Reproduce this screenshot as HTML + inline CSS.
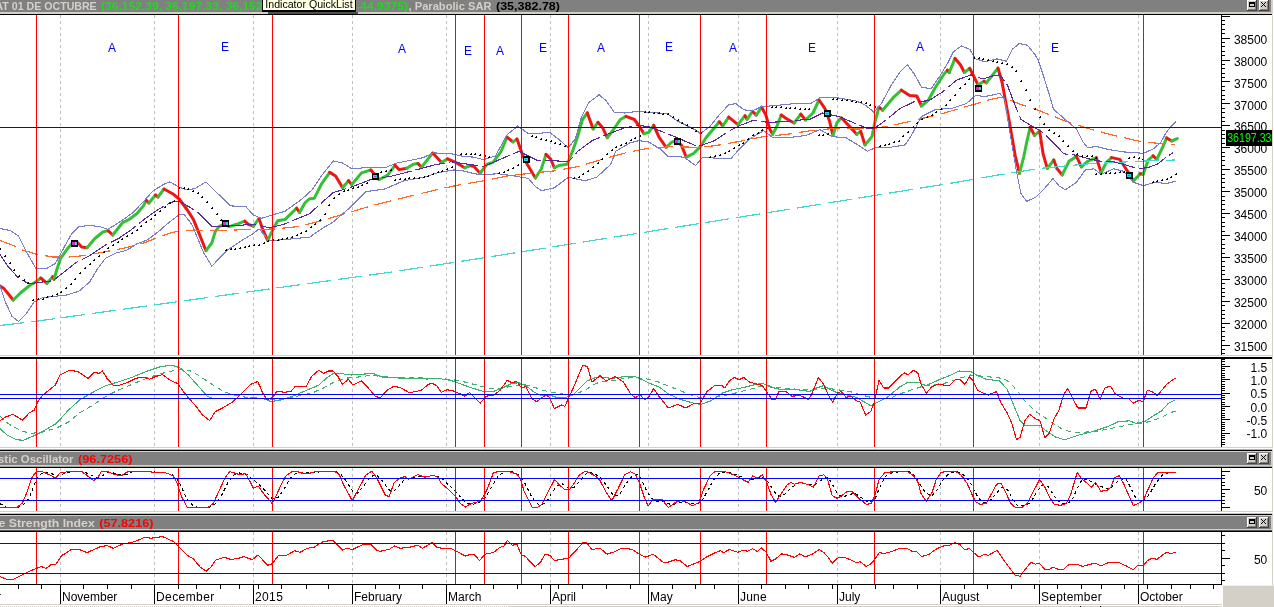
<!DOCTYPE html><html><head><meta charset="utf-8"><title>chart</title><style>html,body{margin:0;padding:0;background:#fff;overflow:hidden}</style></head><body><svg width="1274" height="607" viewBox="0 0 1274 607" style="display:block;font-family:'Liberation Sans',sans-serif;will-change:transform">
<rect x="0" y="0" width="1274" height="607" fill="#fff"/>
<defs>
<clipPath id="cm"><rect x="0" y="15" width="1221" height="340"/></clipPath>
<clipPath id="c2"><rect x="0" y="359" width="1221" height="88"/></clipPath>
<clipPath id="c3"><rect x="0" y="468" width="1221" height="43"/></clipPath>
<clipPath id="c4"><rect x="0" y="532" width="1221" height="52"/></clipPath>
</defs>
<g shape-rendering="crispEdges">
<line x1="60.5" y1="15" x2="60.5" y2="355" stroke="#c0c0c0" stroke-width="1" stroke-dasharray="3 3"/>
<line x1="154.5" y1="15" x2="154.5" y2="355" stroke="#c0c0c0" stroke-width="1" stroke-dasharray="3 3"/>
<line x1="253.5" y1="15" x2="253.5" y2="355" stroke="#c0c0c0" stroke-width="1" stroke-dasharray="3 3"/>
<line x1="352.5" y1="15" x2="352.5" y2="355" stroke="#c0c0c0" stroke-width="1" stroke-dasharray="3 3"/>
<line x1="446.5" y1="15" x2="446.5" y2="355" stroke="#c0c0c0" stroke-width="1" stroke-dasharray="3 3"/>
<line x1="550.5" y1="15" x2="550.5" y2="355" stroke="#c0c0c0" stroke-width="1" stroke-dasharray="3 3"/>
<line x1="648.5" y1="15" x2="648.5" y2="355" stroke="#c0c0c0" stroke-width="1" stroke-dasharray="3 3"/>
<line x1="738.5" y1="15" x2="738.5" y2="355" stroke="#c0c0c0" stroke-width="1" stroke-dasharray="3 3"/>
<line x1="837.5" y1="15" x2="837.5" y2="355" stroke="#c0c0c0" stroke-width="1" stroke-dasharray="3 3"/>
<line x1="940.5" y1="15" x2="940.5" y2="355" stroke="#c0c0c0" stroke-width="1" stroke-dasharray="3 3"/>
<line x1="1039.5" y1="15" x2="1039.5" y2="355" stroke="#c0c0c0" stroke-width="1" stroke-dasharray="3 3"/>
<line x1="1138.5" y1="15" x2="1138.5" y2="355" stroke="#c0c0c0" stroke-width="1" stroke-dasharray="3 3"/>
<line x1="60.5" y1="359" x2="60.5" y2="447" stroke="#c0c0c0" stroke-width="1" stroke-dasharray="3 3"/>
<line x1="154.5" y1="359" x2="154.5" y2="447" stroke="#c0c0c0" stroke-width="1" stroke-dasharray="3 3"/>
<line x1="253.5" y1="359" x2="253.5" y2="447" stroke="#c0c0c0" stroke-width="1" stroke-dasharray="3 3"/>
<line x1="352.5" y1="359" x2="352.5" y2="447" stroke="#c0c0c0" stroke-width="1" stroke-dasharray="3 3"/>
<line x1="446.5" y1="359" x2="446.5" y2="447" stroke="#c0c0c0" stroke-width="1" stroke-dasharray="3 3"/>
<line x1="550.5" y1="359" x2="550.5" y2="447" stroke="#c0c0c0" stroke-width="1" stroke-dasharray="3 3"/>
<line x1="648.5" y1="359" x2="648.5" y2="447" stroke="#c0c0c0" stroke-width="1" stroke-dasharray="3 3"/>
<line x1="738.5" y1="359" x2="738.5" y2="447" stroke="#c0c0c0" stroke-width="1" stroke-dasharray="3 3"/>
<line x1="837.5" y1="359" x2="837.5" y2="447" stroke="#c0c0c0" stroke-width="1" stroke-dasharray="3 3"/>
<line x1="940.5" y1="359" x2="940.5" y2="447" stroke="#c0c0c0" stroke-width="1" stroke-dasharray="3 3"/>
<line x1="1039.5" y1="359" x2="1039.5" y2="447" stroke="#c0c0c0" stroke-width="1" stroke-dasharray="3 3"/>
<line x1="1138.5" y1="359" x2="1138.5" y2="447" stroke="#c0c0c0" stroke-width="1" stroke-dasharray="3 3"/>
<line x1="60.5" y1="468" x2="60.5" y2="511" stroke="#c0c0c0" stroke-width="1" stroke-dasharray="3 3"/>
<line x1="154.5" y1="468" x2="154.5" y2="511" stroke="#c0c0c0" stroke-width="1" stroke-dasharray="3 3"/>
<line x1="253.5" y1="468" x2="253.5" y2="511" stroke="#c0c0c0" stroke-width="1" stroke-dasharray="3 3"/>
<line x1="352.5" y1="468" x2="352.5" y2="511" stroke="#c0c0c0" stroke-width="1" stroke-dasharray="3 3"/>
<line x1="446.5" y1="468" x2="446.5" y2="511" stroke="#c0c0c0" stroke-width="1" stroke-dasharray="3 3"/>
<line x1="550.5" y1="468" x2="550.5" y2="511" stroke="#c0c0c0" stroke-width="1" stroke-dasharray="3 3"/>
<line x1="648.5" y1="468" x2="648.5" y2="511" stroke="#c0c0c0" stroke-width="1" stroke-dasharray="3 3"/>
<line x1="738.5" y1="468" x2="738.5" y2="511" stroke="#c0c0c0" stroke-width="1" stroke-dasharray="3 3"/>
<line x1="837.5" y1="468" x2="837.5" y2="511" stroke="#c0c0c0" stroke-width="1" stroke-dasharray="3 3"/>
<line x1="940.5" y1="468" x2="940.5" y2="511" stroke="#c0c0c0" stroke-width="1" stroke-dasharray="3 3"/>
<line x1="1039.5" y1="468" x2="1039.5" y2="511" stroke="#c0c0c0" stroke-width="1" stroke-dasharray="3 3"/>
<line x1="1138.5" y1="468" x2="1138.5" y2="511" stroke="#c0c0c0" stroke-width="1" stroke-dasharray="3 3"/>
<line x1="60.5" y1="532" x2="60.5" y2="584" stroke="#c0c0c0" stroke-width="1" stroke-dasharray="3 3"/>
<line x1="154.5" y1="532" x2="154.5" y2="584" stroke="#c0c0c0" stroke-width="1" stroke-dasharray="3 3"/>
<line x1="253.5" y1="532" x2="253.5" y2="584" stroke="#c0c0c0" stroke-width="1" stroke-dasharray="3 3"/>
<line x1="352.5" y1="532" x2="352.5" y2="584" stroke="#c0c0c0" stroke-width="1" stroke-dasharray="3 3"/>
<line x1="446.5" y1="532" x2="446.5" y2="584" stroke="#c0c0c0" stroke-width="1" stroke-dasharray="3 3"/>
<line x1="550.5" y1="532" x2="550.5" y2="584" stroke="#c0c0c0" stroke-width="1" stroke-dasharray="3 3"/>
<line x1="648.5" y1="532" x2="648.5" y2="584" stroke="#c0c0c0" stroke-width="1" stroke-dasharray="3 3"/>
<line x1="738.5" y1="532" x2="738.5" y2="584" stroke="#c0c0c0" stroke-width="1" stroke-dasharray="3 3"/>
<line x1="837.5" y1="532" x2="837.5" y2="584" stroke="#c0c0c0" stroke-width="1" stroke-dasharray="3 3"/>
<line x1="940.5" y1="532" x2="940.5" y2="584" stroke="#c0c0c0" stroke-width="1" stroke-dasharray="3 3"/>
<line x1="1039.5" y1="532" x2="1039.5" y2="584" stroke="#c0c0c0" stroke-width="1" stroke-dasharray="3 3"/>
<line x1="1138.5" y1="532" x2="1138.5" y2="584" stroke="#c0c0c0" stroke-width="1" stroke-dasharray="3 3"/>
</g>
<g clip-path="url(#cm)" fill="none" stroke-width="3" stroke-linecap="round" stroke-linejoin="round">
<polyline points="0.0,286.0 4.0,288.6 13.2,300.0" stroke="#f01414"/>
<polyline points="13.2,300.0 21.0,292.5 29.0,286.0 35.6,282.0 40.8,278.0" stroke="#34c034"/>
<polyline points="40.8,278.0 47.0,283.3" stroke="#f01414"/>
<polyline points="47.0,283.3 52.7,276.7" stroke="#34c034"/>
<polyline points="52.7,276.7 54.0,279.4" stroke="#f01414"/>
<polyline points="54.0,279.4 56.7,270.0 60.6,258.3 67.2,249.0 71.7,243.8 75.0,242.5" stroke="#34c034"/>
<polyline points="75.0,242.5 78.0,243.0 81.7,247.0 87.0,247.7" stroke="#f01414"/>
<polyline points="87.0,247.7 94.9,238.5 102.8,232.0 108.0,230.6" stroke="#34c034"/>
<polyline points="108.0,230.6 112.8,235.0" stroke="#f01414"/>
<polyline points="112.8,235.0 122.5,222.7 129.0,219.5 137.0,213.5 143.6,205.6 146.2,200.3" stroke="#34c034"/>
<polyline points="146.2,200.3 148.9,203.0" stroke="#f01414"/>
<polyline points="148.9,203.0 155.5,195.0" stroke="#34c034"/>
<polyline points="155.5,195.0 158.0,197.0" stroke="#f01414"/>
<polyline points="158.0,197.0 164.0,189.0" stroke="#34c034"/>
<polyline points="164.0,189.0 172.6,193.7 179.2,199.0 187.0,209.5 193.5,219.6 206.0,250.7" stroke="#f01414"/>
<polyline points="206.0,250.7 211.8,243.0 215.4,231.3 218.9,226.6 223.6,224.3 229.5,226.6 236.6,224.3 244.8,221.2" stroke="#34c034"/>
<polyline points="244.8,221.2 248.3,224.3 253.5,226.2" stroke="#f01414"/>
<polyline points="253.5,226.2 259.0,218.4" stroke="#34c034"/>
<polyline points="259.0,218.4 262.5,229.0 267.7,240.3" stroke="#f01414"/>
<polyline points="267.7,240.3 274.3,226.6 277.8,220.7 284.9,219.6 296.7,208.2" stroke="#34c034"/>
<polyline points="296.7,208.2 299.5,212.5" stroke="#f01414"/>
<polyline points="299.5,212.5 304.9,203.0 309.2,199.0 314.3,198.3 321.4,184.2 329.7,172.4" stroke="#34c034"/>
<polyline points="329.7,172.4 335.6,176.0 342.6,187.7" stroke="#f01414"/>
<polyline points="342.6,187.7 348.5,180.7" stroke="#34c034"/>
<polyline points="348.5,180.7 351.6,184.7" stroke="#f01414"/>
<polyline points="351.6,184.7 361.5,172.9 370.9,170.0" stroke="#34c034"/>
<polyline points="370.9,170.0 374.4,174.3 379.0,179.5" stroke="#f01414"/>
<polyline points="379.0,179.5 387.4,175.3 395.0,165.4" stroke="#34c034"/>
<polyline points="395.0,165.4 399.2,169.6 406.7,168.2" stroke="#f01414"/>
<polyline points="406.7,168.2 413.3,164.2 418.0,163.5" stroke="#34c034"/>
<polyline points="418.0,163.5 421.6,167.2" stroke="#f01414"/>
<polyline points="421.6,167.2 432.7,153.0" stroke="#34c034"/>
<polyline points="432.7,153.0 441.6,162.5" stroke="#f01414"/>
<polyline points="441.6,162.5 447.5,158.8" stroke="#34c034"/>
<polyline points="447.5,158.8 454.6,161.8 464.7,167.8" stroke="#f01414"/>
<polyline points="464.7,167.8 470.6,165.5" stroke="#34c034"/>
<polyline points="470.6,165.5 474.0,166.6 480.0,173.2" stroke="#f01414"/>
<polyline points="480.0,173.2 487.0,164.3 493.0,162.4 501.2,151.3 507.0,137.2" stroke="#34c034"/>
<polyline points="507.0,137.2 513.0,141.9" stroke="#f01414"/>
<polyline points="513.0,141.9 517.0,139.0" stroke="#34c034"/>
<polyline points="517.0,139.0 522.5,154.8 527.2,164.3 535.4,178.0" stroke="#f01414"/>
<polyline points="535.4,178.0 541.3,169.0 546.0,154.4" stroke="#34c034"/>
<polyline points="546.0,154.4 550.7,159.0 554.3,167.8" stroke="#f01414"/>
<polyline points="554.3,167.8 559.0,165.5 567.2,164.3 573.0,150.0 577.8,136.0 582.5,119.5 587.3,112.9" stroke="#34c034"/>
<polyline points="587.3,112.9 593.2,128.9" stroke="#f01414"/>
<polyline points="593.2,128.9 597.9,122.3" stroke="#34c034"/>
<polyline points="597.9,122.3 602.6,127.7 607.3,137.6" stroke="#f01414"/>
<polyline points="607.3,137.6 613.2,130.0 620.3,119.5 626.0,116.4" stroke="#34c034"/>
<polyline points="626.0,116.4 634.4,119.5 640.3,127.7 643.8,133.6" stroke="#f01414"/>
<polyline points="643.8,133.6 648.5,132.5 653.7,125.4" stroke="#34c034"/>
<polyline points="653.7,125.4 659.0,137.2 666.2,147.3" stroke="#f01414"/>
<polyline points="666.2,147.3 672.0,141.9 676.8,140.7" stroke="#34c034"/>
<polyline points="676.8,140.7 681.5,145.4 686.3,157.2" stroke="#f01414"/>
<polyline points="686.3,157.2 693.3,153.7 700.4,146.6 706.3,137.2 713.4,128.9 719.3,121.8" stroke="#34c034"/>
<polyline points="719.3,121.8 722.8,126.0" stroke="#f01414"/>
<polyline points="722.8,126.0 728.7,117.1" stroke="#34c034"/>
<polyline points="728.7,117.1 738.0,124.7" stroke="#f01414"/>
<polyline points="738.0,124.7 745.0,115.7" stroke="#34c034"/>
<polyline points="745.0,115.7 747.0,119.3" stroke="#f01414"/>
<polyline points="747.0,119.3 752.5,111.3" stroke="#34c034"/>
<polyline points="752.5,111.3 756.2,115.1" stroke="#f01414"/>
<polyline points="756.2,115.1 761.7,107.2" stroke="#34c034"/>
<polyline points="761.7,107.2 766.0,115.4 769.5,128.4 772.5,134.3" stroke="#f01414"/>
<polyline points="772.5,134.3 776.5,127.2 781.2,115.0" stroke="#34c034"/>
<polyline points="781.2,115.0 787.0,119.0 794.2,123.0" stroke="#f01414"/>
<polyline points="794.2,123.0 800.8,114.2" stroke="#34c034"/>
<polyline points="800.8,114.2 805.5,120.0" stroke="#f01414"/>
<polyline points="805.5,120.0 813.0,113.0 819.0,100.0" stroke="#34c034"/>
<polyline points="819.0,100.0 824.8,108.3 829.6,121.3 833.0,135.4" stroke="#f01414"/>
<polyline points="833.0,135.4 837.0,122.5 841.3,117.8" stroke="#34c034"/>
<polyline points="841.3,117.8 850.8,127.7 856.7,134.3" stroke="#f01414"/>
<polyline points="856.7,134.3 860.7,131.4" stroke="#34c034"/>
<polyline points="860.7,131.4 865.0,144.9" stroke="#f01414"/>
<polyline points="865.0,144.9 872.0,136.6 874.8,122.5 879.0,107.2" stroke="#34c034"/>
<polyline points="879.0,107.2 882.6,110.2" stroke="#f01414"/>
<polyline points="882.6,110.2 893.2,97.7 901.4,90.2" stroke="#34c034"/>
<polyline points="901.4,90.2 909.7,95.4 916.8,96.0 921.5,106.0" stroke="#f01414"/>
<polyline points="921.5,106.0 928.5,100.0 935.6,87.0 943.9,74.2 947.4,70.2" stroke="#34c034"/>
<polyline points="947.4,70.2 949.3,72.5" stroke="#f01414"/>
<polyline points="949.3,72.5 955.0,58.4" stroke="#34c034"/>
<polyline points="955.0,58.4 960.4,64.7 964.4,72.5" stroke="#f01414"/>
<polyline points="964.4,72.5 969.8,68.3" stroke="#34c034"/>
<polyline points="969.8,68.3 973.3,75.4 978.0,84.8" stroke="#f01414"/>
<polyline points="978.0,84.8 984.0,81.2" stroke="#34c034"/>
<polyline points="984.0,81.2 986.3,82.9" stroke="#f01414"/>
<polyline points="986.3,82.9 998.0,68.1" stroke="#34c034"/>
<polyline points="998.0,68.1 1002.0,82.0 1009.2,121.0 1015.3,156.0 1019.5,173.4" stroke="#f01414"/>
<polyline points="1019.5,173.4 1023.7,157.0 1026.4,143.7 1030.2,127.2" stroke="#34c034"/>
<polyline points="1030.2,127.2 1034.5,135.4" stroke="#f01414"/>
<polyline points="1034.5,135.4 1039.7,131.2" stroke="#34c034"/>
<polyline points="1039.7,131.2 1043.1,153.9 1047.3,168.3" stroke="#f01414"/>
<polyline points="1047.3,168.3 1053.8,160.0" stroke="#34c034"/>
<polyline points="1053.8,160.0 1056.7,168.3 1062.2,174.9" stroke="#f01414"/>
<polyline points="1062.2,174.9 1069.0,161.3 1076.5,156.4" stroke="#34c034"/>
<polyline points="1076.5,156.4 1081.4,166.8" stroke="#f01414"/>
<polyline points="1081.4,166.8 1087.6,161.3 1096.3,157.6" stroke="#34c034"/>
<polyline points="1096.3,157.6 1101.2,172.5" stroke="#f01414"/>
<polyline points="1101.2,172.5 1106.2,162.6 1111.6,157.6" stroke="#34c034"/>
<polyline points="1111.6,157.6 1119.8,159.4 1125.9,168.8 1130.9,176.2 1133.4,181.1" stroke="#f01414"/>
<polyline points="1133.4,181.1 1140.3,173.7" stroke="#34c034"/>
<polyline points="1140.3,173.7 1143.2,174.2" stroke="#f01414"/>
<polyline points="1143.2,174.2 1148.2,160.1 1153.1,155.9" stroke="#34c034"/>
<polyline points="1153.1,155.9 1156.8,159.4" stroke="#f01414"/>
<polyline points="1156.8,159.4 1163.0,146.5 1166.7,137.9" stroke="#34c034"/>
<polyline points="1166.7,137.9 1171.7,141.0" stroke="#f01414"/>
<polyline points="1171.7,141.0 1177.3,138.6" stroke="#34c034"/>
</g>
<g clip-path="url(#cm)" fill="none" stroke-linejoin="round" shape-rendering="crispEdges">
<polyline points="0.0,325.5 34.3,321.5 200.0,298.6 387.4,272.6 480.0,258.4 640.0,233.0 800.0,207.5 954.5,182.6 999.2,174.8 1040.0,168.4 1088.9,163.8 1138.3,161.3 1175.4,160.0" stroke="#40d8d0" stroke-width="1.2" stroke-dasharray="24 7"/>
<polyline points="0.0,240.6 10.5,244.3 23.7,250.4 36.9,254.3 52.7,257.0 68.5,257.0 84.3,255.6 105.4,251.7 126.5,247.7 145.0,242.5 158.1,237.2 171.3,232.7 184.5,230.1 203.6,230.2 227.0,230.2 250.7,229.5 274.3,229.0 297.8,226.6 321.4,220.7 345.0,213.7 368.6,206.6 392.0,200.7 415.7,194.8 439.3,189.0 460.0,184.8 483.6,180.8 507.0,176.0 530.7,173.2 554.3,170.9 577.8,166.6 601.4,159.6 625.0,153.0 648.5,148.2 672.0,146.6 695.7,147.3 707.5,146.6 719.3,145.0 740.0,141.3 763.6,136.6 787.0,134.3 810.7,130.7 834.3,128.4 857.8,129.0 874.3,128.4 893.2,125.3 916.8,119.7 940.3,114.2 963.9,107.2 980.4,102.5 990.0,99.5 1002.4,97.0 1019.7,104.0 1039.4,110.7 1064.1,120.6 1088.9,128.7 1113.6,135.4 1138.3,141.0 1163.0,144.0 1175.4,144.5" stroke="#ff6a28" stroke-width="1.2" stroke-dasharray="17 7"/>
<polyline points="0.0,228.5 10.5,230.6 18.4,235.9 26.4,251.7 35.6,268.0 46.1,268.8 55.3,263.5 63.2,249.0 71.1,234.6 79.0,226.7 89.6,225.3 100.1,226.7 108.0,229.3 118.6,222.7 131.8,213.5 142.3,202.9 152.8,191.0 163.4,184.5 170.0,181.9 179.2,187.1 187.1,190.0 195.0,188.6 206.0,181.9 215.4,191.3 230.7,205.9 246.0,206.6 253.0,214.8 261.3,218.4 273.0,214.8 284.9,211.3 301.4,199.5 312.0,190.0 321.4,176.0 333.2,161.0 342.6,163.0 352.0,168.9 370.9,167.2 385.0,167.7 396.8,163.0 411.0,160.2 422.8,157.8 433.4,152.9 451.0,153.6 460.5,155.9 474.0,157.2 483.6,159.6 495.4,156.0 507.0,134.8 517.7,126.0 528.3,133.6 540.0,133.2 549.6,132.5 559.0,139.5 568.4,147.8 575.5,138.3 581.4,117.0 588.4,103.0 599.0,94.7 606.0,100.6 614.4,112.4 625.0,113.0 639.0,111.2 648.5,112.4 667.4,113.6 676.8,120.7 686.3,125.4 695.7,130.0 700.4,133.6 709.8,126.6 719.3,114.8 728.7,104.9 735.8,103.5 742.8,108.9 747.0,110.7 752.2,111.0 761.2,106.7 775.4,105.5 799.0,103.2 810.7,103.6 820.0,97.7 834.3,97.3 855.5,100.8 865.0,104.8 874.0,112.2 881.4,103.6 890.8,86.0 900.3,71.8 907.3,64.7 914.4,74.2 921.5,87.0 931.0,89.0 940.3,75.4 947.4,63.6 953.3,51.8 961.5,45.9 969.8,49.4 975.7,58.9 985.0,61.7 996.9,58.9 1006.3,61.2 1012.2,49.4 1019.3,43.5 1027.5,45.2 1034.6,54.0 1038.2,60.0 1043.1,74.8 1049.3,94.6 1053.6,109.4 1066.6,120.6 1076.5,129.2 1082.7,141.6 1087.6,147.7 1096.3,146.5 1108.6,149.5 1123.5,151.9 1135.8,152.7 1143.2,153.4 1153.1,149.0 1160.5,142.8 1166.7,131.7 1171.7,125.5 1175.9,121.8" stroke="#7a7ec8" stroke-width="1.1"/>
<polyline points="0.0,286.0 5.3,301.8 11.9,316.2 18.4,321.5 26.4,313.6 34.3,301.8 42.2,297.8 52.7,296.5 65.9,295.2 79.0,291.2 89.6,282.0 97.5,268.8 105.4,258.3 116.0,253.0 126.5,250.4 137.0,243.8 147.6,239.8 158.1,231.9 168.6,222.7 179.2,214.8 184.5,214.8 191.8,224.3 203.6,252.6 211.8,266.2 227.0,250.2 241.3,240.8 253.0,233.7 259.0,229.0 269.6,240.8 283.7,239.6 309.6,237.2 321.4,229.0 333.2,222.0 349.7,207.8 366.0,191.7 385.0,188.9 404.0,180.7 425.0,177.0 439.0,172.4 453.4,170.0 460.0,170.2 474.0,173.7 483.6,174.9 497.7,173.7 514.2,176.0 528.3,178.4 535.4,186.7 541.3,190.7 554.3,187.8 568.4,177.2 585.0,180.8 596.7,177.2 610.8,164.3 615.6,151.3 629.7,143.0 639.0,140.7 648.5,141.9 660.3,149.0 667.4,156.0 683.9,157.2 695.7,165.5 702.7,157.2 719.3,158.4 731.0,158.4 740.0,148.4 749.4,139.0 763.6,130.7 773.0,137.8 787.0,137.8 806.0,135.4 820.0,129.6 832.0,136.6 846.0,137.8 857.8,144.9 867.3,151.2 876.7,147.2 890.8,147.2 905.0,144.9 912.0,134.3 921.5,116.6 935.6,109.5 952.1,108.3 966.3,103.6 975.7,95.4 985.0,96.6 999.9,93.4 1004.8,99.5 1009.8,131.7 1016.0,168.8 1020.9,193.5 1026.6,201.4 1035.7,197.2 1044.4,188.5 1053.0,178.6 1059.2,186.0 1065.4,189.8 1076.5,182.3 1085.2,170.0 1093.8,168.8 1101.2,174.2 1113.6,168.8 1123.5,171.2 1133.4,182.3 1143.2,185.6 1155.6,182.3 1166.7,183.6 1175.4,181.1" stroke="#7a7ec8" stroke-width="1.1"/>
<polyline points="0.0,254.3 7.9,266.2 18.4,278.0 29.0,283.8 42.2,282.0 52.7,280.7 63.2,272.8 76.4,262.2 89.6,255.6 105.4,245.1 118.6,238.5 131.8,229.3 145.0,218.7 158.1,209.5 171.3,202.1 180.0,201.5 196.5,211.3 211.8,226.2 227.0,226.2 253.0,224.3 269.6,227.8 283.7,224.3 309.6,213.7 321.4,203.0 333.2,192.5 349.7,187.7 371.0,179.5 392.0,176.0 415.7,170.0 434.5,164.9 451.0,161.8 460.0,163.0 483.6,166.6 502.4,158.4 519.0,151.3 537.8,160.7 554.3,160.7 568.4,161.9 577.8,151.3 592.0,140.7 606.0,134.8 625.0,127.7 639.0,125.4 648.5,126.6 667.4,133.6 683.9,140.7 698.0,146.6 714.5,140.7 728.7,131.3 740.0,125.5 754.0,120.0 768.3,122.5 787.0,121.3 810.7,119.0 822.5,113.0 839.0,116.6 853.0,122.5 867.3,128.4 874.3,128.4 886.0,120.0 900.3,108.3 914.4,101.7 928.5,100.8 942.7,91.8 956.8,80.0 971.0,74.9 982.8,78.9 994.5,75.4 999.9,74.8 1007.3,84.7 1014.7,104.5 1020.9,119.3 1030.8,125.5 1041.9,131.7 1054.3,144.0 1064.1,153.9 1076.5,155.2 1088.9,158.9 1101.2,161.3 1113.6,161.8 1125.9,165.0 1138.3,168.8 1148.2,167.5 1158.1,163.8 1165.5,157.6 1172.9,152.7" stroke="#5a2a9a" stroke-width="1.1" stroke-dasharray="30 4"/>
</g>
<g fill="#000" shape-rendering="crispEdges" clip-path="url(#cm)">
<path d="M0 248h1v2h-2v-1h1z"/>
<path d="M5 255h1v2h-2v-1h1z"/>
<path d="M10 262h1v2h-2v-1h1z"/>
<path d="M14 269h1v2h-2v-1h1z"/>
<path d="M19 275h1v2h-2v-1h1z"/>
<path d="M24 279h1v2h-2v-1h1z"/>
<path d="M28 282h1v2h-2v-1h1z"/>
<path d="M33 299h1v2h-2v-1h1z"/>
<path d="M38 298h1v2h-2v-1h1z"/>
<path d="M43 298h1v2h-2v-1h1z"/>
<path d="M47 296h1v2h-2v-1h1z"/>
<path d="M52 295h1v2h-2v-1h1z"/>
<path d="M57 293h1v2h-2v-1h1z"/>
<path d="M61 291h1v2h-2v-1h1z"/>
<path d="M66 287h1v2h-2v-1h1z"/>
<path d="M71 283h1v2h-2v-1h1z"/>
<path d="M75 278h1v2h-2v-1h1z"/>
<path d="M80 272h1v2h-2v-1h1z"/>
<path d="M85 267h1v2h-2v-1h1z"/>
<path d="M90 263h1v2h-2v-1h1z"/>
<path d="M94 259h1v2h-2v-1h1z"/>
<path d="M99 255h1v2h-2v-1h1z"/>
<path d="M104 251h1v2h-2v-1h1z"/>
<path d="M108 247h1v2h-2v-1h1z"/>
<path d="M113 244h1v2h-2v-1h1z"/>
<path d="M118 241h1v2h-2v-1h1z"/>
<path d="M122 238h1v2h-2v-1h1z"/>
<path d="M127 235h1v2h-2v-1h1z"/>
<path d="M132 232h1v2h-2v-1h1z"/>
<path d="M137 229h1v2h-2v-1h1z"/>
<path d="M141 225h1v2h-2v-1h1z"/>
<path d="M146 221h1v2h-2v-1h1z"/>
<path d="M151 218h1v2h-2v-1h1z"/>
<path d="M155 214h1v2h-2v-1h1z"/>
<path d="M160 210h1v2h-2v-1h1z"/>
<path d="M165 206h1v2h-2v-1h1z"/>
<path d="M170 202h1v2h-2v-1h1z"/>
<path d="M174 200h1v2h-2v-1h1z"/>
<path d="M179 187h1v2h-2v-1h1z"/>
<path d="M184 187h1v2h-2v-1h1z"/>
<path d="M188 188h1v2h-2v-1h1z"/>
<path d="M193 190h1v2h-2v-1h1z"/>
<path d="M198 192h1v2h-2v-1h1z"/>
<path d="M202 196h1v2h-2v-1h1z"/>
<path d="M207 201h1v2h-2v-1h1z"/>
<path d="M212 207h1v2h-2v-1h1z"/>
<path d="M217 213h1v2h-2v-1h1z"/>
<path d="M221 219h1v2h-2v-1h1z"/>
<path d="M226 249h1v2h-2v-1h1z"/>
<path d="M231 248h1v2h-2v-1h1z"/>
<path d="M235 248h1v2h-2v-1h1z"/>
<path d="M240 247h1v2h-2v-1h1z"/>
<path d="M245 246h1v2h-2v-1h1z"/>
<path d="M249 245h1v2h-2v-1h1z"/>
<path d="M254 244h1v2h-2v-1h1z"/>
<path d="M259 244h1v2h-2v-1h1z"/>
<path d="M264 242h1v2h-2v-1h1z"/>
<path d="M268 240h1v2h-2v-1h1z"/>
<path d="M273 239h1v2h-2v-1h1z"/>
<path d="M278 239h1v2h-2v-1h1z"/>
<path d="M282 238h1v2h-2v-1h1z"/>
<path d="M287 237h1v2h-2v-1h1z"/>
<path d="M292 236h1v2h-2v-1h1z"/>
<path d="M297 234h1v2h-2v-1h1z"/>
<path d="M301 232h1v2h-2v-1h1z"/>
<path d="M306 230h1v2h-2v-1h1z"/>
<path d="M311 226h1v2h-2v-1h1z"/>
<path d="M315 223h1v2h-2v-1h1z"/>
<path d="M320 219h1v2h-2v-1h1z"/>
<path d="M325 213h1v2h-2v-1h1z"/>
<path d="M329 204h1v2h-2v-1h1z"/>
<path d="M334 197h1v2h-2v-1h1z"/>
<path d="M339 193h1v2h-2v-1h1z"/>
<path d="M344 190h1v2h-2v-1h1z"/>
<path d="M348 189h1v2h-2v-1h1z"/>
<path d="M353 187h1v2h-2v-1h1z"/>
<path d="M358 186h1v2h-2v-1h1z"/>
<path d="M362 184h1v2h-2v-1h1z"/>
<path d="M367 182h1v2h-2v-1h1z"/>
<path d="M377 173h1v2h-2v-1h1z"/>
<path d="M381 171h1v2h-2v-1h1z"/>
<path d="M386 170h1v2h-2v-1h1z"/>
<path d="M391 169h1v2h-2v-1h1z"/>
<path d="M395 179h1v2h-2v-1h1z"/>
<path d="M400 178h1v2h-2v-1h1z"/>
<path d="M405 178h1v2h-2v-1h1z"/>
<path d="M409 177h1v2h-2v-1h1z"/>
<path d="M414 177h1v2h-2v-1h1z"/>
<path d="M419 177h1v2h-2v-1h1z"/>
<path d="M424 176h1v2h-2v-1h1z"/>
<path d="M428 175h1v2h-2v-1h1z"/>
<path d="M433 173h1v2h-2v-1h1z"/>
<path d="M438 171h1v2h-2v-1h1z"/>
<path d="M442 170h1v2h-2v-1h1z"/>
<path d="M447 168h1v2h-2v-1h1z"/>
<path d="M452 166h1v2h-2v-1h1z"/>
<path d="M461 153h1v2h-2v-1h1z"/>
<path d="M466 153h1v2h-2v-1h1z"/>
<path d="M471 153h1v2h-2v-1h1z"/>
<path d="M475 153h1v2h-2v-1h1z"/>
<path d="M480 154h1v2h-2v-1h1z"/>
<path d="M485 155h1v2h-2v-1h1z"/>
<path d="M489 156h1v2h-2v-1h1z"/>
<path d="M499 172h1v2h-2v-1h1z"/>
<path d="M504 171h1v2h-2v-1h1z"/>
<path d="M508 169h1v2h-2v-1h1z"/>
<path d="M513 167h1v2h-2v-1h1z"/>
<path d="M518 164h1v2h-2v-1h1z"/>
<path d="M532 135h1v2h-2v-1h1z"/>
<path d="M536 136h1v2h-2v-1h1z"/>
<path d="M541 138h1v2h-2v-1h1z"/>
<path d="M546 139h1v2h-2v-1h1z"/>
<path d="M551 140h1v2h-2v-1h1z"/>
<path d="M555 142h1v2h-2v-1h1z"/>
<path d="M560 143h1v2h-2v-1h1z"/>
<path d="M565 145h1v2h-2v-1h1z"/>
<path d="M574 177h1v2h-2v-1h1z"/>
<path d="M579 176h1v2h-2v-1h1z"/>
<path d="M583 173h1v2h-2v-1h1z"/>
<path d="M588 170h1v2h-2v-1h1z"/>
<path d="M593 166h1v2h-2v-1h1z"/>
<path d="M598 162h1v2h-2v-1h1z"/>
<path d="M602 158h1v2h-2v-1h1z"/>
<path d="M607 153h1v2h-2v-1h1z"/>
<path d="M612 149h1v2h-2v-1h1z"/>
<path d="M616 146h1v2h-2v-1h1z"/>
<path d="M621 144h1v2h-2v-1h1z"/>
<path d="M626 142h1v2h-2v-1h1z"/>
<path d="M631 139h1v2h-2v-1h1z"/>
<path d="M635 137h1v2h-2v-1h1z"/>
<path d="M640 135h1v2h-2v-1h1z"/>
<path d="M645 111h1v2h-2v-1h1z"/>
<path d="M649 111h1v2h-2v-1h1z"/>
<path d="M654 112h1v2h-2v-1h1z"/>
<path d="M659 112h1v2h-2v-1h1z"/>
<path d="M663 113h1v2h-2v-1h1z"/>
<path d="M668 113h1v2h-2v-1h1z"/>
<path d="M673 116h1v2h-2v-1h1z"/>
<path d="M678 119h1v2h-2v-1h1z"/>
<path d="M682 122h1v2h-2v-1h1z"/>
<path d="M687 124h1v2h-2v-1h1z"/>
<path d="M692 127h1v2h-2v-1h1z"/>
<path d="M696 130h1v2h-2v-1h1z"/>
<path d="M701 132h1v2h-2v-1h1z"/>
<path d="M710 156h1v2h-2v-1h1z"/>
<path d="M715 155h1v2h-2v-1h1z"/>
<path d="M720 154h1v2h-2v-1h1z"/>
<path d="M725 152h1v2h-2v-1h1z"/>
<path d="M729 150h1v2h-2v-1h1z"/>
<path d="M734 147h1v2h-2v-1h1z"/>
<path d="M739 144h1v2h-2v-1h1z"/>
<path d="M743 142h1v2h-2v-1h1z"/>
<path d="M748 138h1v2h-2v-1h1z"/>
<path d="M753 134h1v2h-2v-1h1z"/>
<path d="M758 132h1v2h-2v-1h1z"/>
<path d="M762 129h1v2h-2v-1h1z"/>
<path d="M767 127h1v2h-2v-1h1z"/>
<path d="M772 106h1v2h-2v-1h1z"/>
<path d="M776 106h1v2h-2v-1h1z"/>
<path d="M781 106h1v2h-2v-1h1z"/>
<path d="M786 107h1v2h-2v-1h1z"/>
<path d="M790 107h1v2h-2v-1h1z"/>
<path d="M795 107h1v2h-2v-1h1z"/>
<path d="M800 108h1v2h-2v-1h1z"/>
<path d="M805 108h1v2h-2v-1h1z"/>
<path d="M809 108h1v2h-2v-1h1z"/>
<path d="M819 134h1v2h-2v-1h1z"/>
<path d="M823 134h1v2h-2v-1h1z"/>
<path d="M828 133h1v2h-2v-1h1z"/>
<path d="M833 98h1v2h-2v-1h1z"/>
<path d="M837 98h1v2h-2v-1h1z"/>
<path d="M842 99h1v2h-2v-1h1z"/>
<path d="M847 99h1v2h-2v-1h1z"/>
<path d="M852 100h1v2h-2v-1h1z"/>
<path d="M856 101h1v2h-2v-1h1z"/>
<path d="M861 101h1v2h-2v-1h1z"/>
<path d="M866 102h1v2h-2v-1h1z"/>
<path d="M870 104h1v2h-2v-1h1z"/>
<path d="M875 106h1v2h-2v-1h1z"/>
<path d="M880 145h1v2h-2v-1h1z"/>
<path d="M885 144h1v2h-2v-1h1z"/>
<path d="M889 143h1v2h-2v-1h1z"/>
<path d="M894 141h1v2h-2v-1h1z"/>
<path d="M899 140h1v2h-2v-1h1z"/>
<path d="M903 135h1v2h-2v-1h1z"/>
<path d="M908 131h1v2h-2v-1h1z"/>
<path d="M913 126h1v2h-2v-1h1z"/>
<path d="M917 122h1v2h-2v-1h1z"/>
<path d="M922 118h1v2h-2v-1h1z"/>
<path d="M927 116h1v2h-2v-1h1z"/>
<path d="M932 114h1v2h-2v-1h1z"/>
<path d="M936 111h1v2h-2v-1h1z"/>
<path d="M941 108h1v2h-2v-1h1z"/>
<path d="M946 104h1v2h-2v-1h1z"/>
<path d="M950 99h1v2h-2v-1h1z"/>
<path d="M955 94h1v2h-2v-1h1z"/>
<path d="M960 87h1v2h-2v-1h1z"/>
<path d="M965 83h1v2h-2v-1h1z"/>
<path d="M969 78h1v2h-2v-1h1z"/>
<path d="M974 57h1v2h-2v-1h1z"/>
<path d="M979 57h1v2h-2v-1h1z"/>
<path d="M983 58h1v2h-2v-1h1z"/>
<path d="M988 59h1v2h-2v-1h1z"/>
<path d="M993 60h1v2h-2v-1h1z"/>
<path d="M997 61h1v2h-2v-1h1z"/>
<path d="M1002 62h1v2h-2v-1h1z"/>
<path d="M1007 63h1v2h-2v-1h1z"/>
<path d="M1012 66h1v2h-2v-1h1z"/>
<path d="M1016 70h1v2h-2v-1h1z"/>
<path d="M1021 80h1v2h-2v-1h1z"/>
<path d="M1026 89h1v2h-2v-1h1z"/>
<path d="M1030 99h1v2h-2v-1h1z"/>
<path d="M1035 108h1v2h-2v-1h1z"/>
<path d="M1040 116h1v2h-2v-1h1z"/>
<path d="M1044 123h1v2h-2v-1h1z"/>
<path d="M1049 129h1v2h-2v-1h1z"/>
<path d="M1054 132h1v2h-2v-1h1z"/>
<path d="M1059 135h1v2h-2v-1h1z"/>
<path d="M1063 140h1v2h-2v-1h1z"/>
<path d="M1068 145h1v2h-2v-1h1z"/>
<path d="M1073 150h1v2h-2v-1h1z"/>
<path d="M1077 153h1v2h-2v-1h1z"/>
<path d="M1082 155h1v2h-2v-1h1z"/>
<path d="M1087 155h1v2h-2v-1h1z"/>
<path d="M1092 155h1v2h-2v-1h1z"/>
<path d="M1096 157h1v2h-2v-1h1z"/>
<path d="M1096 173h1v2h-2v-1h1z"/>
<path d="M1101 173h1v2h-2v-1h1z"/>
<path d="M1106 172h1v2h-2v-1h1z"/>
<path d="M1110 172h1v2h-2v-1h1z"/>
<path d="M1115 172h1v2h-2v-1h1z"/>
<path d="M1120 171h1v2h-2v-1h1z"/>
<path d="M1124 171h1v2h-2v-1h1z"/>
<path d="M1129 157h1v2h-2v-1h1z"/>
<path d="M1134 156h1v2h-2v-1h1z"/>
<path d="M1139 157h1v2h-2v-1h1z"/>
<path d="M1143 158h1v2h-2v-1h1z"/>
<path d="M1153 181h1v2h-2v-1h1z"/>
<path d="M1157 180h1v2h-2v-1h1z"/>
<path d="M1162 179h1v2h-2v-1h1z"/>
<path d="M1167 178h1v2h-2v-1h1z"/>
<path d="M1171 176h1v2h-2v-1h1z"/>
<path d="M1176 173h1v2h-2v-1h1z"/>
</g>
<g shape-rendering="crispEdges">
<rect x="71" y="240" width="7" height="7" fill="#000"/>
<rect x="72" y="242" width="3" height="3" fill="#d030d0"/>
<rect x="75" y="242" width="2" height="3" fill="#20d8e8"/>
<rect x="222" y="220" width="7" height="7" fill="#000"/>
<rect x="223" y="222" width="3" height="3" fill="#d030d0"/>
<rect x="226" y="222" width="2" height="3" fill="#20d8e8"/>
<rect x="372" y="173" width="7" height="7" fill="#000"/>
<rect x="373" y="175" width="4" height="3" fill="#20d8e8"/>
<rect x="374" y="176" width="2" height="1" fill="#d030d0"/>
<rect x="523" y="156" width="7" height="7" fill="#000"/>
<rect x="524" y="158" width="4" height="3" fill="#20d8e8"/>
<rect x="525" y="159" width="2" height="1" fill="#d030d0"/>
<rect x="674" y="138" width="7" height="7" fill="#000"/>
<rect x="675" y="140" width="3" height="3" fill="#d030d0"/>
<rect x="678" y="140" width="2" height="3" fill="#20d8e8"/>
<rect x="824" y="110" width="7" height="7" fill="#000"/>
<rect x="825" y="112" width="4" height="3" fill="#20d8e8"/>
<rect x="826" y="113" width="2" height="1" fill="#d030d0"/>
<rect x="975" y="85" width="7" height="7" fill="#000"/>
<rect x="976" y="87" width="3" height="3" fill="#d030d0"/>
<rect x="979" y="87" width="2" height="3" fill="#20d8e8"/>
<rect x="1126" y="172" width="7" height="7" fill="#000"/>
<rect x="1127" y="174" width="4" height="3" fill="#20d8e8"/>
<rect x="1128" y="175" width="2" height="1" fill="#d030d0"/>
</g>
<g fill="#0000ff" font-size="12px" text-anchor="middle">
<text x="112" y="52.2">A</text>
<text x="225" y="51.2">E</text>
<text x="402" y="53.2">A</text>
<text x="468" y="55.2">E</text>
<text x="500" y="55.2">A</text>
<text x="543" y="52.2">E</text>
<text x="601" y="52.2">A</text>
<text x="669" y="51.2">E</text>
<text x="733" y="52.2">A</text>
<text x="812" y="52.2">E</text>
<text x="920" y="51.2">A</text>
<text x="1055" y="52.2">E</text>
</g>
<g clip-path="url(#c2)" fill="none" stroke-linejoin="round" shape-rendering="crispEdges">
<polyline points="0.0,416.2 9.4,424.5 21.2,430.8 30.6,433.4 42.4,432.2 56.5,428.0 68.3,422.1 80.0,412.7 94.2,404.4 106.0,396.2 117.7,390.3 131.9,384.4 146.0,378.5 160.1,373.8 171.9,371.0 181.3,369.1 190.7,371.0 200.1,376.2 211.9,384.4 223.7,391.5 235.5,395.5 247.2,397.4 259.0,397.9 270.8,399.3 282.6,399.3 292.0,397.9 300.0,395.3 311.8,393.1 323.5,388.0 335.3,381.4 347.1,378.1 361.2,376.7 373.0,375.0 382.4,377.4 398.9,377.8 417.7,377.8 436.6,378.5 450.7,379.3 464.8,382.1 479.0,385.6 490.7,388.4 502.5,388.0 514.3,385.6 523.7,384.4 533.1,386.8 542.5,390.3 554.3,392.7 566.1,394.6 575.5,393.9 584.9,390.3 594.3,384.4 600.0,382.0 611.8,380.9 623.5,378.5 635.3,377.4 647.1,379.0 658.9,382.1 670.6,386.8 682.4,391.5 694.2,396.2 706.0,398.6 717.7,396.9 731.9,393.9 743.6,390.8 755.4,388.0 764.8,385.1 776.6,387.5 788.4,388.4 802.5,389.8 816.6,389.8 826.0,388.0 837.8,389.8 849.6,391.5 861.4,395.0 873.1,397.9 882.6,398.6 892.0,397.4 900.0,393.9 911.8,389.8 923.5,386.1 935.3,384.4 947.1,382.8 958.9,378.5 970.6,375.0 982.4,376.2 994.2,377.4 1003.6,378.5 1010.7,383.3 1017.7,391.5 1024.8,400.9 1034.2,410.3 1043.6,416.7 1053.0,423.3 1062.5,429.2 1071.9,432.2 1083.7,432.2 1095.4,431.5 1107.2,429.2 1119.0,426.8 1130.7,424.5 1142.5,423.3 1151.9,420.9 1161.4,417.4 1170.8,412.7 1175.5,411.0" stroke="#3cb070" stroke-width="1.1" stroke-dasharray="5 4"/>
<polyline points="0.0,428.5 7.1,435.1 16.5,439.8 23.5,440.2 33.0,436.2 44.7,430.3 56.5,423.3 68.3,410.3 80.0,399.7 94.2,391.5 106.0,385.6 117.7,382.1 131.9,377.4 146.0,371.5 160.1,366.8 171.9,365.1 180.1,368.0 188.4,375.0 197.8,385.6 207.2,396.2 213.1,398.6 235.5,398.6 254.3,397.9 263.7,398.6 270.8,401.6 280.2,400.2 289.6,397.4 300.0,393.1 309.4,389.1 318.8,385.1 325.9,378.5 333.0,373.8 342.4,373.8 351.8,375.0 361.2,374.3 373.0,373.4 380.1,376.2 394.2,377.8 410.7,378.5 427.1,379.0 438.9,378.5 450.7,380.4 460.1,383.7 471.9,388.0 483.7,391.5 493.1,391.5 502.5,388.0 511.9,383.3 519.0,382.8 526.0,385.6 533.1,391.5 540.2,395.0 549.6,395.0 556.7,397.4 566.1,397.4 573.1,395.0 580.2,388.0 587.3,380.9 594.3,378.1 600.0,376.8 611.8,378.5 623.5,376.7 635.3,376.7 642.4,379.7 649.4,383.3 658.9,386.8 668.3,393.9 680.1,399.3 694.2,403.3 701.2,404.4 710.7,400.9 722.4,393.1 731.9,389.8 743.6,387.5 753.0,385.1 762.5,383.3 769.5,386.8 779.0,389.1 790.7,389.1 802.5,390.3 809.6,391.5 816.6,388.0 823.7,385.6 830.7,389.8 837.8,393.1 847.2,395.0 856.7,397.4 863.7,401.6 870.8,405.6 877.8,402.1 887.3,397.4 894.3,391.5 900.0,386.8 907.1,382.8 917.7,382.1 925.9,385.6 937.7,380.4 949.4,375.7 958.9,371.0 970.6,371.5 977.7,375.7 987.1,379.7 998.9,380.4 1007.1,389.1 1013.0,403.3 1020.1,420.9 1024.8,425.2 1040.1,425.2 1046.0,430.8 1055.4,436.9 1064.8,439.8 1078.9,435.1 1095.4,430.8 1107.2,426.8 1119.0,421.4 1129.6,420.9 1135.5,423.3 1144.9,421.4 1151.9,416.7 1161.4,411.0 1168.4,403.3 1175.5,399.7" stroke="#3cb070" stroke-width="1.1"/>
<polyline points="0.0,420.9 4.7,417.4 13.0,414.3 22.4,420.2 29.4,412.7 34.1,410.3 37.7,402.1 42.4,395.5 49.4,389.8 55.3,385.1 60.0,375.0 69.5,370.3 77.7,371.5 88.3,378.5 94.2,372.2 98.9,373.4 102.4,370.8 107.1,378.5 113.0,385.1 120.0,385.1 128.3,382.1 136.6,378.1 144.8,377.4 149.5,379.3 155.4,376.7 162.5,374.5 169.5,379.7 177.8,383.7 186.0,395.0 195.4,405.6 202.5,415.0 209.6,420.5 215.4,411.5 223.7,407.3 233.1,401.6 242.5,392.7 250.8,384.4 257.8,381.4 262.5,392.7 267.2,399.7 273.1,396.9 276.7,391.5 284.9,392.2 290.8,391.5 295.5,386.1 300.0,386.8 305.9,386.8 311.8,376.2 318.8,370.3 323.5,373.4 328.3,371.0 333.0,371.0 337.7,376.2 342.4,384.4 348.3,379.3 353.0,385.1 361.2,380.9 368.3,388.0 375.3,396.2 380.1,397.9 387.1,390.3 394.2,386.1 401.2,388.0 409.5,392.7 415.4,391.5 421.3,390.3 428.3,384.4 431.9,383.3 436.6,385.6 441.3,392.2 447.2,389.8 453.0,390.8 460.1,393.9 464.8,396.2 469.5,392.7 475.4,398.6 480.1,403.3 486.0,396.2 493.1,395.5 500.1,390.3 507.2,380.4 511.9,382.8 516.6,381.4 521.3,387.5 526.0,386.8 531.9,398.6 536.6,401.6 542.5,397.4 546.1,395.0 549.6,397.4 554.3,408.7 561.4,404.9 564.9,406.3 568.4,398.6 574.3,385.6 582.6,365.6 587.3,366.3 592.0,382.1 600.0,375.6 605.9,380.9 615.3,376.7 623.5,382.1 630.6,393.9 635.3,397.9 640.0,394.6 644.7,399.7 649.4,396.2 653.7,388.4 658.9,396.2 668.3,408.0 677.7,404.4 685.9,408.0 694.2,403.3 700.1,403.3 707.1,391.5 715.4,385.1 721.3,385.1 724.8,388.0 729.5,380.9 734.2,377.4 738.9,379.7 743.6,377.4 749.5,382.1 762.5,385.6 767.2,392.7 771.9,399.3 775.4,399.3 779.0,391.5 786.0,391.5 791.9,396.2 800.1,395.5 808.4,399.3 811.9,393.9 818.5,377.4 823.7,384.4 828.4,395.0 832.6,402.1 837.8,392.7 841.3,391.5 846.1,397.4 850.8,396.2 856.7,400.9 860.2,402.1 865.6,415.0 870.8,411.5 874.3,402.1 879.0,380.4 883.7,388.0 888.4,388.0 894.3,382.1 900.0,376.2 904.7,372.7 908.2,375.0 913.0,370.3 917.7,372.7 921.2,384.4 926.4,393.1 931.8,386.8 937.7,384.4 949.4,385.6 955.3,379.7 960.0,379.7 964.8,384.4 969.5,376.7 973.0,380.9 977.7,390.3 982.4,392.7 988.3,395.0 996.5,391.5 1001.2,403.3 1007.1,412.7 1011.8,423.3 1016.6,439.8 1020.1,437.4 1024.8,420.9 1029.5,414.3 1035.4,418.6 1040.1,420.9 1044.8,437.9 1049.5,432.7 1054.2,418.6 1058.9,410.3 1063.6,395.0 1067.6,388.4 1071.9,396.9 1077.8,408.0 1086.0,408.0 1090.7,391.5 1095.4,389.1 1100.1,399.3 1104.8,388.0 1110.3,386.1 1115.4,393.9 1123.7,398.6 1128.4,398.6 1133.1,403.3 1139.0,400.2 1143.2,402.1 1147.2,390.3 1151.9,391.5 1157.4,395.5 1167.3,383.7 1175.5,378.1" stroke="#ff0000" stroke-width="1.1"/>
</g>
<g clip-path="url(#c3)" fill="none" stroke-linejoin="round" shape-rendering="crispEdges">
<polyline points="0.0,503.6 7.1,507.6 17.7,507.6 23.6,504.7 29.5,497.7 34.2,484.7 38.9,475.3 43.6,472.2 50.7,472.9 56.6,476.5 62.5,474.1 73.1,471.5 82.5,471.5 89.6,474.1 95.5,477.6 101.3,476.5 106.1,472.9 113.1,472.9 121.4,474.6 127.3,474.1 133.2,471.5 148.5,471.5 160.3,472.5 169.7,473.6 175.6,476.5 180.3,484.7 186.2,497.7 192.1,504.7 198.0,507.6 208.6,507.6 215.7,503.6 221.5,495.3 227.4,483.5 233.3,475.3 239.2,472.9 246.3,474.1 252.2,478.8 258.1,483.5 265.1,490.6 272.2,498.8 278.1,497.7 284.0,489.4 289.9,478.8 295.8,473.4 300.0,472.5 314.1,472.5 323.6,471.5 335.4,471.5 341.2,474.8 347.1,482.4 353.0,491.8 357.7,493.0 363.6,485.9 370.7,476.5 376.6,474.8 382.5,481.2 388.4,489.4 393.1,491.8 399.0,485.9 404.9,478.8 413.1,477.2 422.6,476.5 432.0,475.8 439.1,476.5 444.9,481.2 452.0,488.2 459.1,495.3 465.0,501.7 470.9,504.7 477.9,503.1 486.2,496.5 492.1,485.9 498.0,476.5 503.9,471.7 512.1,471.5 519.2,475.3 525.1,483.5 531.0,495.3 535.7,502.4 540.4,505.4 546.3,502.4 551.0,494.1 556.9,485.9 561.6,483.5 568.7,488.2 574.6,487.1 581.6,478.8 587.5,472.5 594.6,473.4 600.0,477.6 607.1,485.9 613.0,495.3 618.9,495.3 624.7,485.9 630.6,477.6 636.5,474.1 641.2,478.8 647.1,491.8 653.0,500.0 658.9,501.7 664.8,501.7 670.7,504.7 676.6,503.6 683.7,501.9 690.7,503.1 696.6,504.3 702.5,500.0 708.4,489.4 714.3,478.8 720.2,472.5 728.4,472.2 736.7,474.8 746.1,478.8 753.2,479.5 762.6,477.2 768.5,482.4 774.4,491.8 779.1,496.5 785.0,494.1 792.1,487.1 799.1,482.8 807.4,484.0 814.5,484.7 821.5,480.0 827.4,477.2 832.1,483.5 836.9,493.0 841.6,497.2 847.5,495.3 854.5,493.0 861.6,497.7 868.7,502.4 874.6,500.0 880.4,485.9 886.3,475.3 893.4,472.5 900.0,471.7 909.4,471.7 915.3,476.5 920.0,484.7 925.9,493.0 931.8,496.0 937.7,489.4 943.6,478.8 949.5,472.9 956.6,471.5 963.6,474.8 969.5,481.2 974.2,490.6 979.0,498.8 984.8,502.9 990.7,500.0 996.6,493.0 1002.5,487.1 1008.4,490.6 1013.1,500.0 1017.8,505.9 1023.7,505.9 1030.8,502.4 1036.7,491.8 1042.6,484.7 1048.5,487.1 1054.4,496.5 1060.3,503.1 1066.2,504.3 1072.0,500.0 1076.8,489.4 1082.6,478.8 1088.5,480.0 1094.4,483.5 1101.5,486.6 1108.6,489.0 1114.5,484.7 1120.4,478.8 1126.3,479.5 1132.1,490.6 1136.9,500.0 1142.7,501.2 1148.6,495.3 1155.7,483.5 1162.8,474.8 1168.7,472.5 1175.8,472.2" stroke="#000" stroke-width="1.1" stroke-dasharray="3 3"/>
<polyline points="0.0,507.6 16.5,507.6 22.4,503.1 27.1,491.8 31.8,477.6 36.5,471.3 42.4,471.7 50.7,475.3 55.4,478.3 60.1,472.9 70.7,471.3 81.3,471.3 88.4,476.5 93.6,480.5 97.8,477.6 101.3,471.7 107.2,471.3 113.1,474.1 121.4,475.8 128.4,471.3 146.1,471.3 155.6,472.5 165.0,472.5 173.2,475.8 176.8,482.4 181.5,496.5 187.4,507.6 207.4,507.6 213.3,503.6 219.2,490.6 225.1,477.6 229.8,471.7 235.7,473.4 240.4,474.8 245.6,473.4 249.8,481.2 253.4,488.2 258.1,485.9 264.0,494.1 272.2,503.6 276.9,494.1 281.6,483.5 286.4,475.3 292.2,471.7 297.0,471.3 300.0,472.9 309.4,473.4 316.5,471.3 334.2,471.3 338.9,474.1 343.6,484.7 352.3,500.7 358.9,488.2 366.0,474.8 371.9,471.3 376.6,477.6 381.3,487.1 385.3,495.3 389.1,496.5 394.3,482.4 400.2,478.1 404.9,476.5 408.4,479.3 417.8,474.6 424.9,477.2 433.2,475.3 437.9,477.2 441.4,483.5 448.5,489.4 455.6,496.5 460.3,503.6 465.4,507.1 470.9,503.6 480.3,501.2 485.0,494.1 488.5,485.9 493.3,472.9 499.1,471.3 508.6,471.3 516.8,474.1 520.4,478.8 523.9,490.6 532.1,507.1 536.9,507.6 541.6,504.7 547.5,493.0 554.5,479.5 559.3,484.7 565.1,489.9 569.9,489.4 574.6,482.4 579.3,475.3 585.2,471.3 589.9,472.9 595.8,476.5 600.0,480.5 605.9,491.8 611.8,500.7 617.7,489.4 624.7,474.8 630.6,471.7 635.4,474.1 640.1,484.7 644.8,498.8 648.3,505.9 653.0,499.3 662.5,500.0 668.3,507.6 675.4,502.4 681.3,500.7 687.2,502.4 692.6,505.9 699.0,502.4 703.7,489.4 709.6,476.5 715.0,471.3 723.7,471.3 732.0,474.1 741.4,478.8 748.0,482.4 752.7,475.8 757.4,478.1 762.1,474.8 766.2,481.2 770.9,494.1 775.6,502.4 781.5,493.0 787.4,484.7 790.9,482.4 794.4,484.2 800.3,482.4 808.6,484.7 813.3,487.1 819.2,475.8 823.9,474.8 827.4,478.8 832.1,495.3 836.9,498.4 840.4,496.5 847.5,491.3 852.2,491.8 859.3,498.8 866.3,504.3 871.0,503.6 874.6,496.5 879.3,478.8 885.2,472.5 894.6,471.7 900.0,471.3 907.1,471.3 913.0,475.3 917.7,481.2 921.2,494.1 926.4,501.2 931.8,493.0 936.5,478.8 941.2,472.5 947.1,471.3 955.4,471.3 961.3,475.3 967.2,483.5 971.9,494.1 975.4,501.7 980.1,504.3 986.0,503.6 990.7,495.3 996.6,484.2 1001.3,483.5 1006.1,493.0 1010.8,503.6 1015.5,507.6 1021.4,507.6 1027.3,503.6 1033.2,491.8 1039.5,479.5 1044.9,487.1 1049.7,497.7 1054.4,504.3 1060.3,505.4 1066.2,503.6 1070.9,494.1 1077.2,472.2 1081.5,478.8 1086.2,482.4 1091.4,487.1 1095.6,482.4 1100.8,491.3 1107.4,490.1 1110.9,487.1 1114.5,477.6 1119.2,475.8 1123.9,484.2 1129.8,497.7 1133.3,505.4 1138.0,503.6 1143.5,500.0 1147.5,490.6 1153.4,477.6 1158.1,472.5 1175.8,472.5" stroke="#ff0000" stroke-width="1.1"/>
</g>
<g clip-path="url(#c4)" fill="none" stroke-linejoin="round" shape-rendering="crispEdges">
<polyline points="0.0,576.6 7.1,579.5 13.0,579.5 21.2,575.4 30.6,570.7 41.2,566.5 46.0,568.4 51.9,564.1 55.4,564.8 61.3,555.9 70.7,550.0 79.0,549.5 87.2,552.6 100.2,546.7 107.2,545.5 113.1,548.3 122.6,544.1 134.3,541.7 144.9,537.3 150.8,538.2 162.6,536.6 173.2,541.3 179.1,547.2 187.4,555.4 193.3,558.9 200.3,567.2 206.2,571.2 210.9,567.2 215.7,560.1 223.9,557.3 231.0,559.4 238.0,558.5 243.9,556.6 252.2,559.7 258.1,554.9 262.8,560.1 267.5,565.3 272.2,563.7 278.1,555.9 286.4,555.4 294.6,550.7 300.0,552.3 307.1,548.3 314.1,547.2 323.6,541.3 333.0,540.6 342.4,550.0 347.1,548.3 352.3,549.5 362.5,544.8 370.7,544.3 376.6,550.0 380.1,551.4 389.6,549.1 394.3,546.0 400.2,548.3 409.6,547.2 417.8,545.3 422.6,548.3 432.0,542.5 436.7,547.2 443.8,548.8 450.8,548.3 457.9,551.9 465.4,556.1 470.9,554.2 474.4,554.7 479.6,560.6 485.0,554.2 493.3,552.6 500.3,547.2 503.9,546.0 507.4,540.6 512.1,545.3 516.8,544.1 521.5,555.4 525.1,556.1 529.8,561.3 535.2,566.5 540.4,562.5 545.1,554.2 549.8,555.4 554.5,560.6 559.3,559.7 568.7,558.2 575.8,550.7 582.8,542.9 586.4,542.5 592.2,550.0 597.0,548.3 600.0,548.3 607.1,554.2 614.1,551.9 621.2,548.3 627.1,548.3 633.0,550.0 640.1,554.7 645.9,557.1 653.0,554.2 663.6,562.5 668.3,562.0 675.4,559.7 680.1,560.8 687.2,566.5 693.1,564.1 700.2,561.3 707.2,556.6 714.3,553.1 720.2,550.7 723.7,552.6 729.6,549.5 737.9,552.3 743.8,550.0 747.3,551.4 752.7,548.8 757.4,551.4 761.4,547.9 766.2,552.3 770.9,561.3 775.6,559.0 781.5,553.8 787.4,554.9 794.4,557.3 799.9,553.8 805.0,557.1 812.1,554.2 819.2,549.5 823.9,552.6 828.6,557.8 832.1,563.2 838.0,557.8 843.9,557.3 849.8,559.4 855.7,562.5 860.4,561.8 866.3,566.5 871.0,563.7 874.6,559.4 879.3,552.6 884.0,553.5 892.2,551.4 900.0,548.3 907.1,548.3 911.8,551.2 916.5,551.4 921.7,556.6 928.3,554.7 937.7,548.3 943.6,546.0 949.5,545.3 954.7,542.5 960.1,544.8 964.8,550.0 969.5,548.3 974.2,553.1 979.0,557.1 984.8,554.2 988.4,555.4 997.1,550.2 1003.7,560.1 1010.8,569.6 1015.5,575.4 1020.2,576.2 1024.9,569.6 1030.8,562.5 1035.5,564.1 1039.5,563.2 1044.9,569.6 1049.7,569.1 1053.2,567.2 1059.1,569.6 1063.8,569.1 1068.5,564.8 1076.8,564.1 1082.6,566.5 1089.7,564.4 1095.6,563.2 1100.8,566.0 1108.6,562.5 1119.2,562.5 1126.3,566.0 1133.3,569.6 1138.0,565.3 1143.5,565.3 1147.5,560.6 1152.2,558.2 1156.9,559.4 1166.3,552.3 1171.0,553.5 1175.8,552.3" stroke="#ff0000" stroke-width="1.1"/>
</g>
<g shape-rendering="crispEdges" fill="#ff0000">
<rect x="36" y="15" width="1" height="340"/>
<rect x="178" y="15" width="1" height="340"/>
<rect x="272" y="15" width="1" height="340"/>
<rect x="455" y="15" width="1" height="340"/>
<rect x="484" y="15" width="1" height="340"/>
<rect x="521" y="15" width="1" height="340"/>
<rect x="568" y="15" width="1" height="340"/>
<rect x="639" y="15" width="1" height="340"/>
<rect x="700" y="15" width="1" height="340"/>
<rect x="766" y="15" width="1" height="340"/>
<rect x="874" y="15" width="1" height="340"/>
<rect x="973" y="15" width="1" height="340"/>
<rect x="1143" y="15" width="1" height="340"/>
<rect x="36" y="359" width="1" height="88"/>
<rect x="178" y="359" width="1" height="88"/>
<rect x="272" y="359" width="1" height="88"/>
<rect x="455" y="359" width="1" height="88"/>
<rect x="484" y="359" width="1" height="88"/>
<rect x="521" y="359" width="1" height="88"/>
<rect x="568" y="359" width="1" height="88"/>
<rect x="639" y="359" width="1" height="88"/>
<rect x="700" y="359" width="1" height="88"/>
<rect x="766" y="359" width="1" height="88"/>
<rect x="874" y="359" width="1" height="88"/>
<rect x="973" y="359" width="1" height="88"/>
<rect x="1143" y="359" width="1" height="88"/>
<rect x="36" y="468" width="1" height="43"/>
<rect x="178" y="468" width="1" height="43"/>
<rect x="272" y="468" width="1" height="43"/>
<rect x="455" y="468" width="1" height="43"/>
<rect x="484" y="468" width="1" height="43"/>
<rect x="521" y="468" width="1" height="43"/>
<rect x="568" y="468" width="1" height="43"/>
<rect x="639" y="468" width="1" height="43"/>
<rect x="700" y="468" width="1" height="43"/>
<rect x="766" y="468" width="1" height="43"/>
<rect x="874" y="468" width="1" height="43"/>
<rect x="973" y="468" width="1" height="43"/>
<rect x="1143" y="468" width="1" height="43"/>
<rect x="36" y="532" width="1" height="52"/>
<rect x="178" y="532" width="1" height="52"/>
<rect x="272" y="532" width="1" height="52"/>
<rect x="455" y="532" width="1" height="52"/>
<rect x="484" y="532" width="1" height="52"/>
<rect x="521" y="532" width="1" height="52"/>
<rect x="568" y="532" width="1" height="52"/>
<rect x="639" y="532" width="1" height="52"/>
<rect x="700" y="532" width="1" height="52"/>
<rect x="766" y="532" width="1" height="52"/>
<rect x="874" y="532" width="1" height="52"/>
<rect x="973" y="532" width="1" height="52"/>
<rect x="1143" y="532" width="1" height="52"/>
</g>
<g shape-rendering="crispEdges"><rect x="0" y="127" width="1221" height="1" fill="#0000ff"/></g>
<g shape-rendering="crispEdges" fill="#0000ff"><rect x="0" y="394" width="1221" height="1"/><rect x="0" y="398" width="1221" height="1"/></g>
<g shape-rendering="crispEdges" fill="#0000ff"><rect x="0" y="478" width="1221" height="1"/><rect x="0" y="500" width="1221" height="1"/></g>
<g shape-rendering="crispEdges" fill="#0000ff"><rect x="0" y="543" width="1221" height="1"/><rect x="0" y="573" width="1221" height="1"/></g>
<g shape-rendering="crispEdges" fill="#000">
<rect x="1221" y="15" width="1" height="340"/>
<rect x="1221" y="359" width="1" height="88"/>
<rect x="1221" y="468" width="1" height="43"/>
<rect x="1221" y="532" width="1" height="53"/>
<rect x="1221" y="16" width="9" height="1"/>
<rect x="1221" y="20" width="4" height="1"/>
<rect x="1221" y="24" width="4" height="1"/>
<rect x="1221" y="29" width="4" height="1"/>
<rect x="1221" y="33" width="4" height="1"/>
<rect x="1221" y="38" width="9" height="1"/>
<rect x="1221" y="42" width="4" height="1"/>
<rect x="1221" y="46" width="4" height="1"/>
<rect x="1221" y="51" width="4" height="1"/>
<rect x="1221" y="55" width="4" height="1"/>
<rect x="1221" y="60" width="9" height="1"/>
<rect x="1221" y="64" width="4" height="1"/>
<rect x="1221" y="68" width="4" height="1"/>
<rect x="1221" y="73" width="4" height="1"/>
<rect x="1221" y="77" width="4" height="1"/>
<rect x="1221" y="81" width="9" height="1"/>
<rect x="1221" y="86" width="4" height="1"/>
<rect x="1221" y="90" width="4" height="1"/>
<rect x="1221" y="95" width="4" height="1"/>
<rect x="1221" y="99" width="4" height="1"/>
<rect x="1221" y="103" width="9" height="1"/>
<rect x="1221" y="108" width="4" height="1"/>
<rect x="1221" y="112" width="4" height="1"/>
<rect x="1221" y="117" width="4" height="1"/>
<rect x="1221" y="121" width="4" height="1"/>
<rect x="1221" y="125" width="9" height="1"/>
<rect x="1221" y="130" width="4" height="1"/>
<rect x="1221" y="134" width="4" height="1"/>
<rect x="1221" y="138" width="4" height="1"/>
<rect x="1221" y="143" width="4" height="1"/>
<rect x="1221" y="147" width="9" height="1"/>
<rect x="1221" y="152" width="4" height="1"/>
<rect x="1221" y="156" width="4" height="1"/>
<rect x="1221" y="160" width="4" height="1"/>
<rect x="1221" y="165" width="4" height="1"/>
<rect x="1221" y="169" width="9" height="1"/>
<rect x="1221" y="174" width="4" height="1"/>
<rect x="1221" y="178" width="4" height="1"/>
<rect x="1221" y="182" width="4" height="1"/>
<rect x="1221" y="187" width="4" height="1"/>
<rect x="1221" y="191" width="9" height="1"/>
<rect x="1221" y="196" width="4" height="1"/>
<rect x="1221" y="200" width="4" height="1"/>
<rect x="1221" y="204" width="4" height="1"/>
<rect x="1221" y="209" width="4" height="1"/>
<rect x="1221" y="213" width="9" height="1"/>
<rect x="1221" y="217" width="4" height="1"/>
<rect x="1221" y="222" width="4" height="1"/>
<rect x="1221" y="226" width="4" height="1"/>
<rect x="1221" y="231" width="4" height="1"/>
<rect x="1221" y="235" width="9" height="1"/>
<rect x="1221" y="239" width="4" height="1"/>
<rect x="1221" y="244" width="4" height="1"/>
<rect x="1221" y="248" width="4" height="1"/>
<rect x="1221" y="253" width="4" height="1"/>
<rect x="1221" y="257" width="9" height="1"/>
<rect x="1221" y="261" width="4" height="1"/>
<rect x="1221" y="266" width="4" height="1"/>
<rect x="1221" y="270" width="4" height="1"/>
<rect x="1221" y="274" width="4" height="1"/>
<rect x="1221" y="279" width="9" height="1"/>
<rect x="1221" y="283" width="4" height="1"/>
<rect x="1221" y="288" width="4" height="1"/>
<rect x="1221" y="292" width="4" height="1"/>
<rect x="1221" y="296" width="4" height="1"/>
<rect x="1221" y="301" width="9" height="1"/>
<rect x="1221" y="305" width="4" height="1"/>
<rect x="1221" y="310" width="4" height="1"/>
<rect x="1221" y="314" width="4" height="1"/>
<rect x="1221" y="318" width="4" height="1"/>
<rect x="1221" y="323" width="9" height="1"/>
<rect x="1221" y="327" width="4" height="1"/>
<rect x="1221" y="331" width="4" height="1"/>
<rect x="1221" y="336" width="4" height="1"/>
<rect x="1221" y="340" width="4" height="1"/>
<rect x="1221" y="345" width="9" height="1"/>
<rect x="1221" y="349" width="4" height="1"/>
<rect x="1221" y="353" width="4" height="1"/>
<rect x="1221" y="359" width="4" height="1"/>
<rect x="1221" y="361" width="4" height="1"/>
<rect x="1221" y="364" width="4" height="1"/>
<rect x="1221" y="366" width="9" height="1"/>
<rect x="1221" y="368" width="4" height="1"/>
<rect x="1221" y="370" width="4" height="1"/>
<rect x="1221" y="373" width="4" height="1"/>
<rect x="1221" y="375" width="4" height="1"/>
<rect x="1221" y="377" width="4" height="1"/>
<rect x="1221" y="379" width="9" height="1"/>
<rect x="1221" y="381" width="4" height="1"/>
<rect x="1221" y="384" width="4" height="1"/>
<rect x="1221" y="386" width="4" height="1"/>
<rect x="1221" y="388" width="4" height="1"/>
<rect x="1221" y="390" width="4" height="1"/>
<rect x="1221" y="393" width="9" height="1"/>
<rect x="1221" y="395" width="4" height="1"/>
<rect x="1221" y="397" width="4" height="1"/>
<rect x="1221" y="399" width="4" height="1"/>
<rect x="1221" y="402" width="4" height="1"/>
<rect x="1221" y="404" width="4" height="1"/>
<rect x="1221" y="406" width="9" height="1"/>
<rect x="1221" y="408" width="4" height="1"/>
<rect x="1221" y="410" width="4" height="1"/>
<rect x="1221" y="413" width="4" height="1"/>
<rect x="1221" y="415" width="4" height="1"/>
<rect x="1221" y="417" width="4" height="1"/>
<rect x="1221" y="419" width="9" height="1"/>
<rect x="1221" y="422" width="4" height="1"/>
<rect x="1221" y="424" width="4" height="1"/>
<rect x="1221" y="426" width="4" height="1"/>
<rect x="1221" y="428" width="4" height="1"/>
<rect x="1221" y="430" width="4" height="1"/>
<rect x="1221" y="433" width="9" height="1"/>
<rect x="1221" y="435" width="4" height="1"/>
<rect x="1221" y="437" width="4" height="1"/>
<rect x="1221" y="439" width="4" height="1"/>
<rect x="1221" y="442" width="4" height="1"/>
<rect x="1221" y="444" width="4" height="1"/>
<rect x="1221" y="471" width="9" height="1"/>
<rect x="1221" y="475" width="4" height="1"/>
<rect x="1221" y="478" width="4" height="1"/>
<rect x="1221" y="482" width="4" height="1"/>
<rect x="1221" y="485" width="4" height="1"/>
<rect x="1221" y="489" width="9" height="1"/>
<rect x="1221" y="493" width="4" height="1"/>
<rect x="1221" y="496" width="4" height="1"/>
<rect x="1221" y="500" width="4" height="1"/>
<rect x="1221" y="503" width="4" height="1"/>
<rect x="1221" y="507" width="9" height="1"/>
<rect x="1221" y="535" width="4" height="1"/>
<rect x="1221" y="543" width="4" height="1"/>
<rect x="1221" y="550" width="4" height="1"/>
<rect x="1221" y="558" width="9" height="1"/>
<rect x="1221" y="565" width="4" height="1"/>
<rect x="1221" y="573" width="4" height="1"/>
<rect x="1221" y="580" width="4" height="1"/>
</g>
<g fill="#000" font-size="12px" text-anchor="end">
<text x="1267.3" y="43.7">38500</text>
<text x="1267.3" y="65.6">38000</text>
<text x="1267.3" y="87.6">37500</text>
<text x="1267.3" y="109.5">37000</text>
<text x="1267.3" y="131.4">36500</text>
<text x="1267.3" y="153.4">36000</text>
<text x="1267.3" y="175.3">35500</text>
<text x="1267.3" y="197.2">35000</text>
<text x="1267.3" y="219.2">34500</text>
<text x="1267.3" y="241.1">34000</text>
<text x="1267.3" y="263.0">33500</text>
<text x="1267.3" y="285.0">33000</text>
<text x="1267.3" y="306.9">32500</text>
<text x="1267.3" y="328.8">32000</text>
<text x="1267.3" y="350.8">31500</text>
<text x="1267.3" y="371.7">1.5</text>
<text x="1267.3" y="385.1">1.0</text>
<text x="1267.3" y="398.4">0.5</text>
<text x="1267.3" y="411.8">0.0</text>
<text x="1267.3" y="425.1">-0.5</text>
<text x="1267.3" y="438.4">-1.0</text>
<text x="1267.3" y="494.9">50</text>
<text x="1267.3" y="563.5">50</text>
</g>
<g shape-rendering="crispEdges"><rect x="1226" y="130" width="46" height="16" fill="#000"/></g>
<text x="1227.2" y="141.9" font-size="12px" fill="#00ff00" textLength="44.3" lengthAdjust="spacingAndGlyphs">36197.33</text>
<g shape-rendering="crispEdges">
<rect x="1272" y="15" width="1" height="570" fill="#d4d0c8"/>
<rect x="0" y="0" width="1271" height="12" fill="#808080"/>
<rect x="0" y="12" width="1273" height="2" fill="#d4d0c8"/>
<rect x="1271" y="0" width="2" height="14" fill="#d4d0c8"/>
<rect x="0" y="14" width="1272" height="1" fill="#000"/>
<rect x="0" y="355" width="1273" height="1" fill="#d4d0c8"/>
<rect x="0" y="357" width="1272" height="2" fill="#000"/>
<rect x="0" y="447" width="1273" height="1" fill="#d4d0c8"/>
<rect x="0" y="448" width="1273" height="1" fill="#ffffff"/>
<rect x="0" y="449" width="1272" height="1" fill="#b0b0b0"/>
<rect x="0" y="450" width="1272" height="1" fill="#000"/>
<rect x="0" y="451" width="1273" height="15" fill="#d4d0c8"/>
<rect x="0" y="452" width="1271" height="13" fill="#808080"/>
<rect x="0" y="466" width="1272" height="1" fill="#a8a6a0"/>
<rect x="0" y="467" width="1272" height="1" fill="#000"/>
<rect x="0" y="511" width="1273" height="1" fill="#d4d0c8"/>
<rect x="0" y="512" width="1273" height="1" fill="#ffffff"/>
<rect x="0" y="513" width="1272" height="1" fill="#c4c4c4"/>
<rect x="0" y="514" width="1272" height="1" fill="#000"/>
<rect x="0" y="515" width="1273" height="15" fill="#d4d0c8"/>
<rect x="0" y="516" width="1271" height="13" fill="#808080"/>
<rect x="0" y="530" width="1272" height="1" fill="#585858"/>
<rect x="0" y="531" width="1272" height="1" fill="#000"/>
</g>
<g shape-rendering="crispEdges"><rect x="1247" y="0" width="10" height="11" fill="#404040"/><rect x="1247" y="0" width="9" height="10" fill="#fff"/><rect x="1248" y="1" width="8" height="9" fill="#808080"/><rect x="1248" y="1" width="7" height="8" fill="#d4d0c8"/><rect x="1249" y="2" width="6" height="5" fill="#000"/><rect x="1250" y="4" width="4" height="2" fill="#d4d0c8"/></g>
<g shape-rendering="crispEdges"><rect x="1259" y="0" width="10" height="11" fill="#404040"/><rect x="1259" y="0" width="9" height="10" fill="#fff"/><rect x="1260" y="1" width="8" height="9" fill="#808080"/><rect x="1260" y="1" width="7" height="8" fill="#d4d0c8"/><rect x="1261" y="2" width="1" height="1" fill="#000"/><rect x="1265" y="2" width="1" height="1" fill="#000"/><rect x="1262" y="3" width="1" height="1" fill="#000"/><rect x="1264" y="3" width="1" height="1" fill="#000"/><rect x="1263" y="4" width="1" height="1" fill="#000"/><rect x="1263" y="4" width="1" height="1" fill="#000"/><rect x="1264" y="5" width="1" height="1" fill="#000"/><rect x="1262" y="5" width="1" height="1" fill="#000"/><rect x="1265" y="6" width="1" height="1" fill="#000"/><rect x="1261" y="6" width="1" height="1" fill="#000"/></g>
<g shape-rendering="crispEdges"><rect x="1247" y="453" width="10" height="11" fill="#404040"/><rect x="1247" y="453" width="9" height="10" fill="#fff"/><rect x="1248" y="454" width="8" height="9" fill="#808080"/><rect x="1248" y="454" width="7" height="8" fill="#d4d0c8"/><rect x="1249" y="455" width="6" height="5" fill="#000"/><rect x="1250" y="457" width="4" height="2" fill="#d4d0c8"/></g>
<g shape-rendering="crispEdges"><rect x="1259" y="453" width="10" height="11" fill="#404040"/><rect x="1259" y="453" width="9" height="10" fill="#fff"/><rect x="1260" y="454" width="8" height="9" fill="#808080"/><rect x="1260" y="454" width="7" height="8" fill="#d4d0c8"/><rect x="1261" y="455" width="1" height="1" fill="#000"/><rect x="1265" y="455" width="1" height="1" fill="#000"/><rect x="1262" y="456" width="1" height="1" fill="#000"/><rect x="1264" y="456" width="1" height="1" fill="#000"/><rect x="1263" y="457" width="1" height="1" fill="#000"/><rect x="1263" y="457" width="1" height="1" fill="#000"/><rect x="1264" y="458" width="1" height="1" fill="#000"/><rect x="1262" y="458" width="1" height="1" fill="#000"/><rect x="1265" y="459" width="1" height="1" fill="#000"/><rect x="1261" y="459" width="1" height="1" fill="#000"/></g>
<g shape-rendering="crispEdges"><rect x="1247" y="517" width="10" height="11" fill="#404040"/><rect x="1247" y="517" width="9" height="10" fill="#fff"/><rect x="1248" y="518" width="8" height="9" fill="#808080"/><rect x="1248" y="518" width="7" height="8" fill="#d4d0c8"/><rect x="1249" y="519" width="6" height="5" fill="#000"/><rect x="1250" y="521" width="4" height="2" fill="#d4d0c8"/></g>
<g shape-rendering="crispEdges"><rect x="1259" y="517" width="10" height="11" fill="#404040"/><rect x="1259" y="517" width="9" height="10" fill="#fff"/><rect x="1260" y="518" width="8" height="9" fill="#808080"/><rect x="1260" y="518" width="7" height="8" fill="#d4d0c8"/><rect x="1261" y="519" width="1" height="1" fill="#000"/><rect x="1265" y="519" width="1" height="1" fill="#000"/><rect x="1262" y="520" width="1" height="1" fill="#000"/><rect x="1264" y="520" width="1" height="1" fill="#000"/><rect x="1263" y="521" width="1" height="1" fill="#000"/><rect x="1263" y="521" width="1" height="1" fill="#000"/><rect x="1264" y="522" width="1" height="1" fill="#000"/><rect x="1262" y="522" width="1" height="1" fill="#000"/><rect x="1265" y="523" width="1" height="1" fill="#000"/><rect x="1261" y="523" width="1" height="1" fill="#000"/></g>
<g font-weight="bold" font-size="11.5px">
<text x="-4.5" y="9.8" fill="#d4d0c8" textLength="101.2" lengthAdjust="spacingAndGlyphs">AT 01 DE OCTUBRE</text>
<text x="101" y="9.8" fill="#28d428" textLength="161.5" lengthAdjust="spacingAndGlyphs">(36,152.39, 36,197.33, 36,152</text>
<text x="356.3" y="9.8" fill="#28d428" textLength="51.7" lengthAdjust="spacingAndGlyphs">-44.9375)</text>
<text x="408.5" y="9.8" fill="#d4d0c8" textLength="83" lengthAdjust="spacingAndGlyphs">, Parabolic SAR</text>
<text x="496" y="9.8" fill="#000" textLength="64" lengthAdjust="spacingAndGlyphs">(35,382.78)</text>
<text x="-2" y="462.8" fill="#d4d0c8" textLength="75.5" lengthAdjust="spacingAndGlyphs">stic Oscillator</text>
<text x="78" y="462.8" fill="#ff0000" textLength="54.5" lengthAdjust="spacingAndGlyphs">(96.7256)</text>
<text x="-1.5" y="526.8" fill="#d4d0c8" textLength="96.3" lengthAdjust="spacingAndGlyphs">e Strength Index</text>
<text x="99.2" y="526.8" fill="#ff0000" textLength="54.3" lengthAdjust="spacingAndGlyphs">(57.8216)</text>
</g>
<g shape-rendering="crispEdges"><rect x="268" y="12" width="90" height="2" fill="#000" fill-opacity="0.62"/><rect x="262" y="0" width="94" height="12" fill="#000"/><rect x="263" y="0" width="92" height="10" fill="#ffffe1"/></g>
<text x="265.3" y="8.3" font-size="11.5px" fill="#000" textLength="87.3" lengthAdjust="spacingAndGlyphs">Indicator QuickList</text>
<g shape-rendering="crispEdges">
<rect x="1222" y="585" width="52" height="1" fill="#f2f0ec"/>
<rect x="1223" y="586" width="51" height="21" fill="#d4d0c8"/>
<rect x="0" y="604" width="1222" height="1" fill="#d4d0c8"/>
<rect x="0" y="605" width="1222" height="1" fill="#ffffff"/>
<rect x="0" y="606" width="1222" height="1" fill="#d4d0c8"/>
<path d="M1 606h1v1h-1zM3 606h1v1h-1zM5 606h1v1h-1zM7 606h1v1h-1zM9 606h1v1h-1zM11 606h1v1h-1zM13 606h1v1h-1zM15 606h1v1h-1zM17 606h1v1h-1zM19 606h1v1h-1zM21 606h1v1h-1zM23 606h1v1h-1zM25 606h1v1h-1zM27 606h1v1h-1zM29 606h1v1h-1zM31 606h1v1h-1zM33 606h1v1h-1zM35 606h1v1h-1zM37 606h1v1h-1zM39 606h1v1h-1zM41 606h1v1h-1zM43 606h1v1h-1zM45 606h1v1h-1zM47 606h1v1h-1zM49 606h1v1h-1zM51 606h1v1h-1zM53 606h1v1h-1zM55 606h1v1h-1zM57 606h1v1h-1zM59 606h1v1h-1zM61 606h1v1h-1zM63 606h1v1h-1zM65 606h1v1h-1zM67 606h1v1h-1zM69 606h1v1h-1zM71 606h1v1h-1zM73 606h1v1h-1zM75 606h1v1h-1zM77 606h1v1h-1zM79 606h1v1h-1zM81 606h1v1h-1zM83 606h1v1h-1zM85 606h1v1h-1zM87 606h1v1h-1zM89 606h1v1h-1zM91 606h1v1h-1zM93 606h1v1h-1zM95 606h1v1h-1zM97 606h1v1h-1zM99 606h1v1h-1zM101 606h1v1h-1zM103 606h1v1h-1zM105 606h1v1h-1zM107 606h1v1h-1zM109 606h1v1h-1zM111 606h1v1h-1zM113 606h1v1h-1zM115 606h1v1h-1zM117 606h1v1h-1zM119 606h1v1h-1zM121 606h1v1h-1zM123 606h1v1h-1zM125 606h1v1h-1zM127 606h1v1h-1zM129 606h1v1h-1zM131 606h1v1h-1zM133 606h1v1h-1zM135 606h1v1h-1zM137 606h1v1h-1zM139 606h1v1h-1zM141 606h1v1h-1zM143 606h1v1h-1zM145 606h1v1h-1zM147 606h1v1h-1zM149 606h1v1h-1zM151 606h1v1h-1zM153 606h1v1h-1zM155 606h1v1h-1zM157 606h1v1h-1zM159 606h1v1h-1zM161 606h1v1h-1zM163 606h1v1h-1zM165 606h1v1h-1zM167 606h1v1h-1zM169 606h1v1h-1zM171 606h1v1h-1zM173 606h1v1h-1zM175 606h1v1h-1zM177 606h1v1h-1zM179 606h1v1h-1zM181 606h1v1h-1zM183 606h1v1h-1zM185 606h1v1h-1zM187 606h1v1h-1zM189 606h1v1h-1zM191 606h1v1h-1zM193 606h1v1h-1zM195 606h1v1h-1zM197 606h1v1h-1zM199 606h1v1h-1zM201 606h1v1h-1zM203 606h1v1h-1zM205 606h1v1h-1zM207 606h1v1h-1zM209 606h1v1h-1zM211 606h1v1h-1zM213 606h1v1h-1zM215 606h1v1h-1zM217 606h1v1h-1zM219 606h1v1h-1zM221 606h1v1h-1zM223 606h1v1h-1zM225 606h1v1h-1zM227 606h1v1h-1zM229 606h1v1h-1zM231 606h1v1h-1zM233 606h1v1h-1zM235 606h1v1h-1zM237 606h1v1h-1zM239 606h1v1h-1zM241 606h1v1h-1zM243 606h1v1h-1zM245 606h1v1h-1zM247 606h1v1h-1zM249 606h1v1h-1zM251 606h1v1h-1zM253 606h1v1h-1zM255 606h1v1h-1zM257 606h1v1h-1zM259 606h1v1h-1zM261 606h1v1h-1zM263 606h1v1h-1zM265 606h1v1h-1zM267 606h1v1h-1zM269 606h1v1h-1zM271 606h1v1h-1zM273 606h1v1h-1zM275 606h1v1h-1zM277 606h1v1h-1zM279 606h1v1h-1zM281 606h1v1h-1zM283 606h1v1h-1zM285 606h1v1h-1zM287 606h1v1h-1zM289 606h1v1h-1zM291 606h1v1h-1zM293 606h1v1h-1zM295 606h1v1h-1zM297 606h1v1h-1zM299 606h1v1h-1zM301 606h1v1h-1zM303 606h1v1h-1zM305 606h1v1h-1zM307 606h1v1h-1zM309 606h1v1h-1zM311 606h1v1h-1zM313 606h1v1h-1zM315 606h1v1h-1zM317 606h1v1h-1zM319 606h1v1h-1zM321 606h1v1h-1zM323 606h1v1h-1zM325 606h1v1h-1zM327 606h1v1h-1zM329 606h1v1h-1zM331 606h1v1h-1zM333 606h1v1h-1zM335 606h1v1h-1zM337 606h1v1h-1zM339 606h1v1h-1zM341 606h1v1h-1zM343 606h1v1h-1zM345 606h1v1h-1zM347 606h1v1h-1zM349 606h1v1h-1zM351 606h1v1h-1zM353 606h1v1h-1zM355 606h1v1h-1zM357 606h1v1h-1zM359 606h1v1h-1zM361 606h1v1h-1zM363 606h1v1h-1zM365 606h1v1h-1zM367 606h1v1h-1zM369 606h1v1h-1zM371 606h1v1h-1zM373 606h1v1h-1zM375 606h1v1h-1zM377 606h1v1h-1zM379 606h1v1h-1zM381 606h1v1h-1zM383 606h1v1h-1zM385 606h1v1h-1zM387 606h1v1h-1zM389 606h1v1h-1zM391 606h1v1h-1zM393 606h1v1h-1zM395 606h1v1h-1zM397 606h1v1h-1zM399 606h1v1h-1zM401 606h1v1h-1zM403 606h1v1h-1zM405 606h1v1h-1zM407 606h1v1h-1zM409 606h1v1h-1zM411 606h1v1h-1zM413 606h1v1h-1zM415 606h1v1h-1zM417 606h1v1h-1zM419 606h1v1h-1zM421 606h1v1h-1zM423 606h1v1h-1zM425 606h1v1h-1zM427 606h1v1h-1zM429 606h1v1h-1zM431 606h1v1h-1zM433 606h1v1h-1zM435 606h1v1h-1zM437 606h1v1h-1zM439 606h1v1h-1zM441 606h1v1h-1zM443 606h1v1h-1zM445 606h1v1h-1zM447 606h1v1h-1zM449 606h1v1h-1zM451 606h1v1h-1zM453 606h1v1h-1zM455 606h1v1h-1zM457 606h1v1h-1zM459 606h1v1h-1zM461 606h1v1h-1zM463 606h1v1h-1zM465 606h1v1h-1zM467 606h1v1h-1zM469 606h1v1h-1zM471 606h1v1h-1zM473 606h1v1h-1zM475 606h1v1h-1zM477 606h1v1h-1zM479 606h1v1h-1zM481 606h1v1h-1zM483 606h1v1h-1zM485 606h1v1h-1zM487 606h1v1h-1zM489 606h1v1h-1zM491 606h1v1h-1zM493 606h1v1h-1zM495 606h1v1h-1zM497 606h1v1h-1zM499 606h1v1h-1zM501 606h1v1h-1zM503 606h1v1h-1zM505 606h1v1h-1zM507 606h1v1h-1z" fill="#ffffff"/>
<rect x="1080" y="606" width="1" height="1" fill="#000"/><rect x="1100" y="606" width="1" height="1" fill="#000"/>
<rect x="0" y="584" width="1222" height="1" fill="#000"/>
<rect x="18" y="585" width="1" height="4" fill="#000"/>
<rect x="41" y="585" width="1" height="4" fill="#000"/>
<rect x="83" y="585" width="1" height="4" fill="#000"/>
<rect x="107" y="585" width="1" height="4" fill="#000"/>
<rect x="131" y="585" width="1" height="4" fill="#000"/>
<rect x="178" y="585" width="1" height="4" fill="#000"/>
<rect x="196" y="585" width="1" height="4" fill="#000"/>
<rect x="220" y="585" width="1" height="4" fill="#000"/>
<rect x="239" y="585" width="1" height="4" fill="#000"/>
<rect x="258" y="585" width="1" height="4" fill="#000"/>
<rect x="281" y="585" width="1" height="4" fill="#000"/>
<rect x="306" y="585" width="1" height="4" fill="#000"/>
<rect x="328" y="585" width="1" height="4" fill="#000"/>
<rect x="375" y="585" width="1" height="4" fill="#000"/>
<rect x="399" y="585" width="1" height="4" fill="#000"/>
<rect x="422" y="585" width="1" height="4" fill="#000"/>
<rect x="470" y="585" width="1" height="4" fill="#000"/>
<rect x="493" y="585" width="1" height="4" fill="#000"/>
<rect x="517" y="585" width="1" height="4" fill="#000"/>
<rect x="541" y="585" width="1" height="4" fill="#000"/>
<rect x="558" y="585" width="1" height="4" fill="#000"/>
<rect x="582" y="585" width="1" height="4" fill="#000"/>
<rect x="606" y="585" width="1" height="4" fill="#000"/>
<rect x="630" y="585" width="1" height="4" fill="#000"/>
<rect x="672" y="585" width="1" height="4" fill="#000"/>
<rect x="695" y="585" width="1" height="4" fill="#000"/>
<rect x="714" y="585" width="1" height="4" fill="#000"/>
<rect x="761" y="585" width="1" height="4" fill="#000"/>
<rect x="785" y="585" width="1" height="4" fill="#000"/>
<rect x="808" y="585" width="1" height="4" fill="#000"/>
<rect x="832" y="585" width="1" height="4" fill="#000"/>
<rect x="851" y="585" width="1" height="4" fill="#000"/>
<rect x="875" y="585" width="1" height="4" fill="#000"/>
<rect x="893" y="585" width="1" height="4" fill="#000"/>
<rect x="917" y="585" width="1" height="4" fill="#000"/>
<rect x="964" y="585" width="1" height="4" fill="#000"/>
<rect x="987" y="585" width="1" height="4" fill="#000"/>
<rect x="1011" y="585" width="1" height="4" fill="#000"/>
<rect x="1034" y="585" width="1" height="4" fill="#000"/>
<rect x="1057" y="585" width="1" height="4" fill="#000"/>
<rect x="1081" y="585" width="1" height="4" fill="#000"/>
<rect x="1101" y="585" width="1" height="4" fill="#000"/>
<rect x="1124" y="585" width="1" height="4" fill="#000"/>
<rect x="1147" y="585" width="1" height="4" fill="#000"/>
<rect x="1171" y="585" width="1" height="4" fill="#000"/>
<rect x="1190" y="585" width="1" height="4" fill="#000"/>
<rect x="1213" y="585" width="1" height="4" fill="#000"/>
<rect x="60" y="585" width="1" height="19" fill="#000"/>
<rect x="154" y="585" width="1" height="19" fill="#000"/>
<rect x="253" y="585" width="1" height="19" fill="#000"/>
<rect x="352" y="585" width="1" height="19" fill="#000"/>
<rect x="446" y="585" width="1" height="19" fill="#000"/>
<rect x="550" y="585" width="1" height="19" fill="#000"/>
<rect x="648" y="585" width="1" height="19" fill="#000"/>
<rect x="738" y="585" width="1" height="19" fill="#000"/>
<rect x="837" y="585" width="1" height="19" fill="#000"/>
<rect x="940" y="585" width="1" height="19" fill="#000"/>
<rect x="1039" y="585" width="1" height="19" fill="#000"/>
<rect x="1138" y="585" width="1" height="19" fill="#000"/>
</g>
<g font-size="12px" fill="#000">
<text x="62.0" y="600.8" letter-spacing="0.000">November</text>
<text x="156.0" y="600.8" letter-spacing="0.410">December</text>
<text x="255.0" y="600.8" letter-spacing="0.370">2015</text>
<text x="354.0" y="600.8" letter-spacing="0.000">February</text>
<text x="448.0" y="600.8" letter-spacing="0.000">March</text>
<text x="552.0" y="600.8" letter-spacing="0.000">April</text>
<text x="650.0" y="600.8" letter-spacing="0.000">May</text>
<text x="740.0" y="600.8" letter-spacing="0.200">June</text>
<text x="839.0" y="600.8" letter-spacing="0.000">July</text>
<text x="942.0" y="600.8" letter-spacing="0.000">August</text>
<text x="1041.0" y="600.8" letter-spacing="0.250">September</text>
<text x="1140.0" y="600.8" letter-spacing="0.000">October</text>
<text x="-3" y="600.8">r</text>
</g>
</svg></body></html>
